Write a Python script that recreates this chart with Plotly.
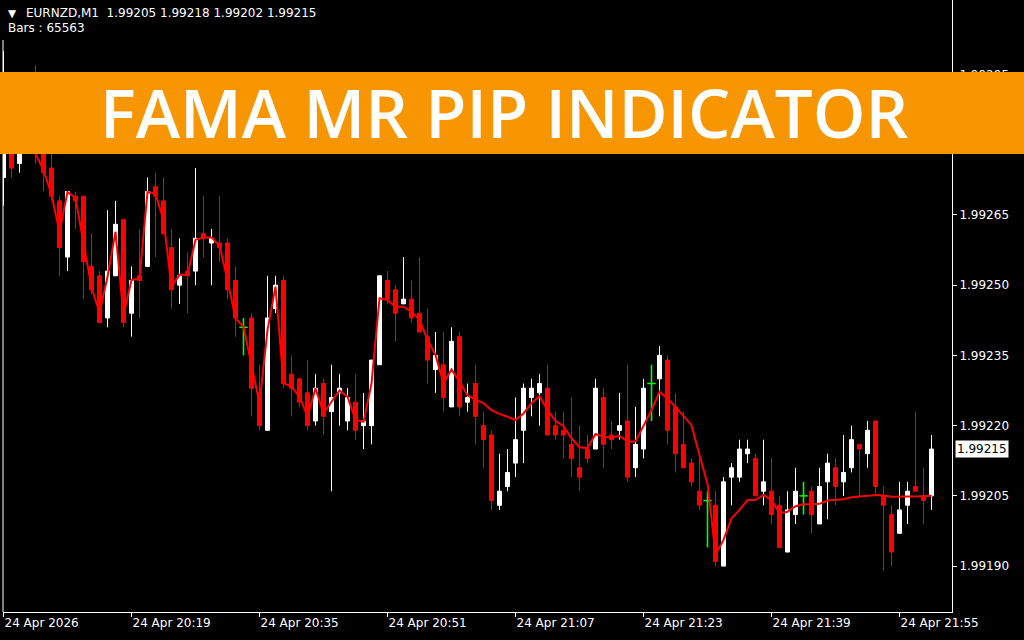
import plotly.graph_objects as go
import pandas as pd

symbol = "EURNZD,M1"
bars_count = 65563
banner_title = "FAMA MR PIP INDICATOR"

opens = [1.99273, 1.99284, 1.99276, 1.99281, 1.99288, 1.99281, 1.99275, 1.99268, 1.99256, 1.99269,
         1.99269, 1.99254, 1.99252, 1.99243, 1.99252, 1.99264, 1.99244, 1.99252, 1.99254, 1.99271,
         1.99268, 1.99258, 1.99250, 1.99253, 1.99253, 1.99261, 1.99259, 1.99259, 1.99259, 1.99251,
         1.99241, 1.99243, 1.99227, 1.99219, 1.99245, 1.99251, 1.99231, 1.99230, 1.99227, 1.99221,
         1.99229, 1.99223, 1.99227, 1.99221, 1.99225, 1.99220, 1.99220, 1.99233, 1.99251, 1.99249,
         1.99246, 1.99247, 1.99244, 1.99239, 1.99232, 1.99233, 1.99224, 1.99239, 1.99225, 1.99229,
         1.99220, 1.99218, 1.99203, 1.99207, 1.99212, 1.99219, 1.99226, 1.99227, 1.99228, 1.99220,
         1.99219, 1.99216, 1.99211, 1.99215, 1.99215, 1.99226, 1.99218, 1.99219, 1.99221, 1.99211,
         1.99215, 1.99229, 1.99230, 1.99234, 1.99224, 1.99216, 1.99212, 1.99206, 1.99204, 1.99203,
         1.99190, 1.99209, 1.99209, 1.99214, 1.99213, 1.99206, 1.99206, 1.99203, 1.99193, 1.99201,
         1.99205, 1.99206, 1.99199, 1.99208, 1.99211, 1.99208, 1.99211, 1.99216, 1.99214, 1.99221,
         1.99205, 1.99201, 1.99197, 1.99203, 1.99207, 1.99205, 1.99205]
highs = [1.99300, 1.99287, 1.99283, 1.99289, 1.99297, 1.99283, 1.99280, 1.99269, 1.99270, 1.99270,
         1.99269, 1.99261, 1.99253, 1.99266, 1.99268, 1.99264, 1.99254, 1.99262, 1.99273, 1.99274,
         1.99273, 1.99262, 1.99260, 1.99257, 1.99275, 1.99269, 1.99262, 1.99269, 1.99260, 1.99254,
         1.99243, 1.99244, 1.99233, 1.99252, 1.99252, 1.99252, 1.99235, 1.99230, 1.99234, 1.99231,
         1.99230, 1.99233, 1.99231, 1.99228, 1.99231, 1.99227, 1.99234, 1.99252, 1.99253, 1.99250,
         1.99256, 1.99251, 1.99256, 1.99245, 1.99240, 1.99240, 1.99241, 1.99240, 1.99229, 1.99233,
         1.99223, 1.99219, 1.99214, 1.99215, 1.99226, 1.99229, 1.99230, 1.99231, 1.99233, 1.99223,
         1.99223, 1.99226, 1.99220, 1.99218, 1.99230, 1.99228, 1.99221, 1.99227, 1.99233, 1.99224,
         1.99230, 1.99233, 1.99237, 1.99235, 1.99227, 1.99223, 1.99213, 1.99213, 1.99206, 1.99206,
         1.99209, 1.99212, 1.99217, 1.99217, 1.99214, 1.99217, 1.99213, 1.99205, 1.99206, 1.99211,
         1.99208, 1.99207, 1.99211, 1.99214, 1.99213, 1.99218, 1.99220, 1.99216, 1.99221, 1.99221,
         1.99207, 1.99203, 1.99208, 1.99208, 1.99223, 1.99211, 1.99218]
lows = [1.99267, 1.99273, 1.99274, 1.99279, 1.99276, 1.99270, 1.99268, 1.99252, 1.99253, 1.99262,
        1.99247, 1.99248, 1.99242, 1.99241, 1.99252, 1.99241, 1.99239, 1.99243, 1.99254, 1.99256,
        1.99261, 1.99245, 1.99246, 1.99244, 1.99250, 1.99256, 1.99250, 1.99255, 1.99247, 1.99239,
        1.99235, 1.99222, 1.99219, 1.99219, 1.99244, 1.99228, 1.99222, 1.99224, 1.99219, 1.99220,
        1.99218, 1.99206, 1.99220, 1.99219, 1.99217, 1.99215, 1.99216, 1.99233, 1.99246, 1.99238,
        1.99246, 1.99242, 1.99240, 1.99229, 1.99227, 1.99223, 1.99224, 1.99222, 1.99223, 1.99216,
        1.99211, 1.99202, 1.99202, 1.99206, 1.99209, 1.99212, 1.99222, 1.99220, 1.99218, 1.99217,
        1.99213, 1.99209, 1.99206, 1.99212, 1.99215, 1.99211, 1.99215, 1.99217, 1.99208, 1.99209,
        1.99213, 1.99221, 1.99222, 1.99216, 1.99210, 1.99211, 1.99207, 1.99202, 1.99194, 1.99190,
        1.99190, 1.99203, 1.99208, 1.99212, 1.99205, 1.99203, 1.99199, 1.99194, 1.99193, 1.99199,
        1.99201, 1.99197, 1.99199, 1.99200, 1.99203, 1.99205, 1.99210, 1.99205, 1.99211, 1.99205,
        1.99189, 1.99190, 1.99197, 1.99199, 1.99206, 1.99199, 1.99202]
closes = [1.99282, 1.99275, 1.99281, 1.99287, 1.99280, 1.99274, 1.99269, 1.99258, 1.99270, 1.99268,
          1.99255, 1.99249, 1.99242, 1.99253, 1.99263, 1.99242, 1.99251, 1.99251, 1.99270, 1.99269,
          1.99261, 1.99249, 1.99252, 1.99252, 1.99260, 1.99260, 1.99260, 1.99258, 1.99249, 1.99243,
          1.99241, 1.99228, 1.99220, 1.99243, 1.99250, 1.99229, 1.99228, 1.99225, 1.99220, 1.99228,
          1.99222, 1.99226, 1.99228, 1.99226, 1.99219, 1.99221, 1.99234, 1.99252, 1.99247, 1.99244,
          1.99247, 1.99243, 1.99240, 1.99234, 1.99235, 1.99226, 1.99238, 1.99224, 1.99226, 1.99222,
          1.99217, 1.99204, 1.99206, 1.99210, 1.99217, 1.99228, 1.99228, 1.99229, 1.99218, 1.99218,
          1.99218, 1.99213, 1.99209, 1.99213, 1.99228, 1.99216, 1.99217, 1.99220, 1.99209, 1.99216,
          1.99228, 1.99229, 1.99235, 1.99219, 1.99214, 1.99211, 1.99208, 1.99203, 1.99204, 1.99191,
          1.99208, 1.99211, 1.99215, 1.99215, 1.99205, 1.99208, 1.99201, 1.99194, 1.99202, 1.99206,
          1.99205, 1.99201, 1.99207, 1.99212, 1.99207, 1.99210, 1.99217, 1.99215, 1.99219, 1.99207,
          1.99203, 1.99193, 1.99202, 1.99206, 1.99206, 1.99204, 1.99215]
fama = [1.992840, 1.992830, 1.992820, 1.992810, 1.992780, 1.992746, 1.992693, 1.992614, 1.992699, 1.992686,
        1.992590, 1.992496, 1.992441, 1.992518, 1.992614, 1.992436, 1.992511, 1.992515, 1.992699, 1.992695,
        1.992639, 1.992497, 1.992522, 1.992522, 1.992597, 1.992602, 1.992602, 1.992584, 1.992511, 1.992429,
        1.992411, 1.992326, 1.992248, 1.992404, 1.992497, 1.992291, 1.992283, 1.992262, 1.992219, 1.992280,
        1.992226, 1.992251, 1.992275, 1.992262, 1.992212, 1.992208, 1.992290, 1.992472, 1.992468, 1.992454,
        1.992454, 1.992443, 1.992426, 1.992383, 1.992351, 1.992290, 1.992320, 1.992294, 1.992265, 1.992255,
        1.992248, 1.992233, 1.992225, 1.992219, 1.992212, 1.992226, 1.992248, 1.992263, 1.992233, 1.992210,
        1.992199, 1.992173, 1.992154, 1.992152, 1.992182, 1.992176, 1.992175, 1.992178, 1.992166, 1.992166,
        1.992201, 1.992233, 1.992272, 1.992258, 1.992240, 1.992221, 1.992201, 1.992137, 1.992076, 1.991925,
        1.991956, 1.992002, 1.992020, 1.992041, 1.992041, 1.992052, 1.992041, 1.992013, 1.992016, 1.992028,
        1.992032, 1.992032, 1.992033, 1.992040, 1.992041, 1.992043, 1.992047, 1.992048, 1.992050, 1.992052,
        1.992051, 1.992048, 1.992048, 1.992049, 1.992049, 1.992049, 1.992050]

times = pd.date_range("2026-04-24 20:03", periods=len(opens), freq="min")
tick_times = ["2026-04-24 20:03", "2026-04-24 20:19", "2026-04-24 20:35", "2026-04-24 20:51",
              "2026-04-24 21:07", "2026-04-24 21:23", "2026-04-24 21:39", "2026-04-24 21:55"]
tick_labels = ["24 Apr 2026", "24 Apr 20:19", "24 Apr 20:35", "24 Apr 20:51",
               "24 Apr 21:07", "24 Apr 21:23", "24 Apr 21:39", "24 Apr 21:55"]
price_ticks = [1.99190, 1.99205, 1.99220, 1.99235, 1.99250, 1.99265, 1.99280, 1.99295]

W, H = 1024, 640
ML, MR, MT, MB = 3, 72, 0, 28
PW, PH = W - ML - MR, H - MT - MB
FONT = "DejaVu Sans"
BAR_PX = 8


def px_x(px):
    return (px - ML) / PW


def px_y(py):
    return 1 - (py - MT) / PH


def indices(kind):
    out = []
    for i, (o, c) in enumerate(zip(opens, closes)):
        if (kind == "bull" and c > o) or (kind == "bear" and c < o) or (kind == "doji" and c == o):
            out.append(i)
    return out


def subset(kind):
    idx = indices(kind)
    return dict(x=[times[i] for i in idx], open=[opens[i] for i in idx], high=[highs[i] for i in idx],
                low=[lows[i] for i in idx], close=[closes[i] for i in idx])


styles = {"bull": "#FFFFFF", "bear": "#FF0000"}
fig = go.Figure()
for kind, col in styles.items():
    d = subset(kind)
    side = dict(line=dict(color=col, width=1), fillcolor=col)
    fig.add_trace(go.Candlestick(**d, increasing=side, decreasing=side, whiskerwidth=0,
                                 hoverinfo="skip", showlegend=False))

# doji bars (open == close): vertical high-low line plus a short level mark at the open/close price
doji = indices("doji")
wx, wy = [], []
for i in doji:
    wx += [times[i], times[i], None]
    wy += [lows[i], highs[i], None]
fig.add_trace(go.Scatter(x=wx, y=wy, mode="lines", line=dict(color="#00FF00", width=1.6),
                         hoverinfo="skip", showlegend=False))
fig.add_trace(go.Scatter(x=[times[i] for i in doji], y=[closes[i] for i in doji], mode="markers",
                         marker=dict(symbol="line-ew", size=6, line=dict(color="#00FF00", width=1.5)),
                         hoverinfo="skip", showlegend=False))

fig.add_trace(go.Scatter(x=times, y=fama, mode="lines", line=dict(color="#FF0000", width=2),
                         hoverinfo="skip", showlegend=False))

# half-pixel offset so that 1px wicks land on pixel centres
x_start = times[0] - pd.Timedelta(seconds=60 * 0.5 / BAR_PX)
x_end = x_start + pd.Timedelta(minutes=PW / BAR_PX)
fig.update_layout(
    width=W, height=H,
    margin=dict(l=ML, r=MR, t=MT, b=MB, pad=0),
    paper_bgcolor="#000000", plot_bgcolor="#000000",
    showlegend=False, boxgap=0.5, boxgroupgap=0,
    xaxis=dict(type="date", range=[x_start, x_end], tickvals=tick_times, ticktext=tick_labels,
               ticks="outside", ticklen=4, tickcolor="#FFFFFF", showline=True, linecolor="#FFFFFF",
               linewidth=1, showgrid=False, zeroline=False, rangeslider=dict(visible=False),
               ticklabelposition="outside right",
               tickfont=dict(family=FONT, size=12, color="#FFFFFF")),
    yaxis=dict(side="right", range=[1.991802, 1.993109], tickvals=price_ticks, tickformat=".5f",
               ticks="outside", ticklen=4, tickcolor="#FFFFFF", showline=True, linecolor="#FFFFFF",
               linewidth=1, showgrid=False, zeroline=False,
               tickfont=dict(family=FONT, size=12, color="#FFFFFF")),
)

# left frame edge (starts below the header text)
fig.add_shape(type="line", xref="paper", yref="paper", x0=0, x1=0, y0=0, y1=px_y(40),
              line=dict(color="#FFFFFF", width=1), layer="below")

# orange banner
fig.add_shape(type="rect", xref="paper", yref="paper", x0=px_x(0), x1=px_x(W), y0=px_y(154), y1=px_y(72),
              fillcolor="#F79600", line=dict(width=0), layer="above")

annotations = [
    dict(text="▼", x=px_x(6), y=px_y(13), xanchor="left", yanchor="middle",
         font=dict(family=FONT, size=10.5, color="#FFFFFF")),
    dict(text=f"{symbol}\u00a0\u00a0{opens[-1]:.5f} {highs[-1]:.5f} {lows[-1]:.5f} {closes[-1]:.5f}",
         x=px_x(24), y=px_y(13), xanchor="left", yanchor="middle",
         font=dict(family=FONT, size=12, color="#FFFFFF")),
    dict(text=f"Bars : {bars_count}", x=px_x(6), y=px_y(28), xanchor="left", yanchor="middle",
         font=dict(family=FONT, size=12, color="#FFFFFF")),
    dict(text=banner_title, x=px_x(504), y=px_y(112), xanchor="center", yanchor="middle",
         font=dict(family="Open Sans", size=67, color="#FFFFFF", weight=600)),
]
for a in annotations:
    a.update(xref="paper", yref="paper", showarrow=False)
    fig.add_annotation(**a)

fig.add_annotation(text=f"{closes[-1]:.5f}", xref="paper", yref="y", x=px_x(955), y=closes[-1],
                   xanchor="left", yanchor="middle", showarrow=False, bgcolor="#FFFFFF",
                   borderpad=1, font=dict(family=FONT, size=12, color="#000000"))

fig.write_html("out.html", config={"displayModeBar": False},
               post_script="document.body.style.margin='0';document.body.style.overflow='hidden';")
